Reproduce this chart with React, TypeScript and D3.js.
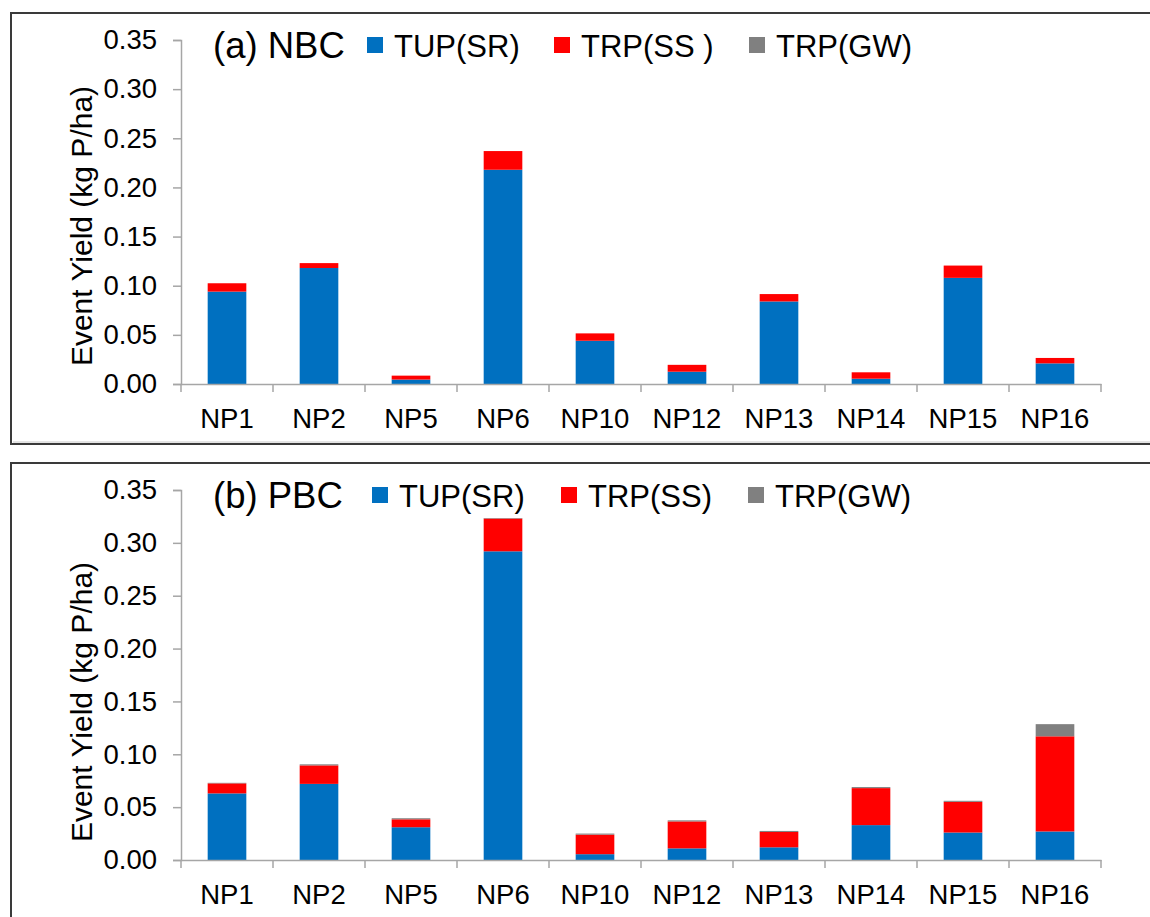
import * as d3 from "d3";
import { useEffect, useRef } from "react";

const categories = ["NP1", "NP2", "NP5", "NP6", "NP10", "NP12", "NP13", "NP14", "NP15", "NP16"];
const seriesNames = ["TUP(SR)", "TRP(SS)", "TRP(GW)"];
const seriesColors = ["#0070C0", "#FF0000", "#808080"];
const yTicks = [0, 0.05, 0.1, 0.15, 0.2, 0.25, 0.3, 0.35];

// (a) NBC
const nbcSR = [0.094, 0.118, 0.0045, 0.218, 0.044, 0.0125, 0.084, 0.0054, 0.108, 0.021];
const nbcSS = [0.0085, 0.005, 0.004, 0.019, 0.0075, 0.007, 0.0075, 0.0065, 0.0125, 0.0055];
const nbcGW = [0, 0, 0, 0, 0, 0, 0, 0, 0, 0];

// (b) PBC
const pbcSR = [0.063, 0.072, 0.031, 0.292, 0.0055, 0.011, 0.012, 0.033, 0.026, 0.027];
const pbcSS = [0.0095, 0.0175, 0.0075, 0.031, 0.0185, 0.0255, 0.0145, 0.035, 0.029, 0.09];
const pbcGW = [0.0005, 0.001, 0.001, 0.0005, 0.001, 0.001, 0.001, 0.001, 0.001, 0.0115];

const FONT = "Liberation Sans, Arial, sans-serif";

interface Panel {
  title: string;
  legend: string[];
  series: number[][];
  top: number; // frame top
  frameBottom: number | null;
  yTop: number;
  yBottom: number;
  legendY: number;
  legendX: number[];
  titleY: number;
}

const panels: Panel[] = [
  {
    title: "(a) NBC",
    legend: ["TUP(SR)", "TRP(SS )", "TRP(GW)"],
    series: [nbcSR, nbcSS, nbcGW],
    top: 13,
    frameBottom: 444,
    yTop: 40,
    yBottom: 384,
    legendY: 57,
    legendX: [367, 554, 749],
    titleY: 226,
  },
  {
    title: "(b) PBC",
    legend: seriesNames,
    series: [pbcSR, pbcSS, pbcGW],
    top: 463,
    frameBottom: null,
    yTop: 490,
    yBottom: 860,
    legendY: 507,
    legendX: [372, 561, 748],
    titleY: 702,
  },
];

const App = () => {
  const ref = useRef<SVGSVGElement | null>(null);

  useEffect(() => {
    const svg = d3.select(ref.current);
    svg.selectAll("*").remove();

    const x = d3.scaleBand<string>().domain(categories).range([181, 1101]).padding(0);
    const barW = x.bandwidth() * 0.42;

    panels.forEach((p) => {
      const g = svg.append("g");

      // frame
      if (p.frameBottom !== null) {
        g.append("path")
          .attr("d", `M1160,${p.top}H11V${p.frameBottom}H1160`)
          .attr("fill", "none")
          .attr("stroke", "#3a3a3a")
          .attr("stroke-width", 2);
        g.append("line")
          .attr("x1", 13).attr("x2", 1160)
          .attr("y1", p.frameBottom - 2).attr("y2", p.frameBottom - 2)
          .attr("stroke", "#c8c8c8").attr("stroke-width", 1);
      } else {
        g.append("path")
          .attr("d", `M1160,${p.top}H11V930`)
          .attr("fill", "none")
          .attr("stroke", "#3a3a3a")
          .attr("stroke-width", 2);
      }

      const y = d3.scaleLinear().domain([0, 0.35]).range([p.yBottom, p.yTop]);

      const rows = categories.map((c, i) => ({
        cat: c,
        s0: p.series[0][i],
        s1: p.series[1][i],
        s2: p.series[2][i],
      }));
      const stack = d3.stack<any>().keys(["s0", "s1", "s2"]);
      const layers = stack(rows);

      layers.forEach((layer, li) => {
        g.append("g")
          .selectAll("rect")
          .data(layer)
          .enter()
          .append("rect")
          .attr("x", (d) => (x(d.data.cat) as number) + (x.bandwidth() - barW) / 2)
          .attr("width", barW)
          .attr("y", (d) => y(d[1]))
          .attr("height", (d) => Math.max(0, y(d[0]) - y(d[1])))
          .attr("fill", seriesColors[li]);
      });

      // y axis
      const yAxis = g.append("g")
        .attr("transform", `translate(181,0)`)
        .call(d3.axisLeft(y).tickValues(yTicks).tickFormat(d3.format(".2f")).tickSize(8).tickPadding(16));
      yAxis.select(".domain").attr("stroke", "#a6a6a6").attr("stroke-width", 1.5);
      yAxis.selectAll(".tick line").attr("stroke", "#a6a6a6").attr("stroke-width", 1.5);
      yAxis.selectAll(".tick text")
        .attr("font-family", FONT)
        .attr("font-size", 27.5)
        .attr("fill", "#000");

      // x axis
      const xAxis = g.append("g")
        .attr("transform", `translate(0,${p.yBottom})`)
        .call(d3.axisBottom(x).tickSize(0).tickPadding(24));
      xAxis.select(".domain").attr("stroke", "#a6a6a6").attr("stroke-width", 1.5);
      xAxis.selectAll(".tick text")
        .attr("font-family", FONT)
        .attr("font-size", 27.5)
        .attr("fill", "#000");
      // category boundary ticks
      const bounds = categories.map((c) => x(c) as number).concat([x.range()[1]]);
      g.append("g")
        .selectAll("line")
        .data(bounds)
        .enter()
        .append("line")
        .attr("x1", (d) => d).attr("x2", (d) => d)
        .attr("y1", p.yBottom).attr("y2", p.yBottom + 8)
        .attr("stroke", "#a6a6a6").attr("stroke-width", 1.5);

      // y title
      g.append("text")
        .attr("transform", `translate(92,${p.titleY}) rotate(-90)`)
        .attr("text-anchor", "middle")
        .attr("font-family", FONT)
        .attr("font-size", 30)
        .attr("fill", "#000")
        .text("Event Yield (kg P/ha)");

      // panel title
      g.append("text")
        .attr("x", 213)
        .attr("y", p.legendY + 1)
        .attr("font-family", FONT)
        .attr("font-size", 36.5)
        .attr("fill", "#000")
        .text(p.title);

      // legend
      p.legend.forEach((name, i) => {
        g.append("rect")
          .attr("x", p.legendX[i])
          .attr("y", p.legendY - 20)
          .attr("width", 16)
          .attr("height", 16)
          .attr("fill", seriesColors[i]);
        g.append("text")
          .attr("x", p.legendX[i] + 27)
          .attr("y", p.legendY)
          .attr("font-family", FONT)
          .attr("font-size", 31)
          .attr("fill", "#000")
          .text(name);
      });
    });
  }, []);

  return (
    <div style={{ position: "fixed", left: 0, top: 0 }}>
      <svg ref={ref} width={1150} height={917} style={{ display: "block", background: "#fff" }}></svg>
    </div>
  );
};

export default App;
